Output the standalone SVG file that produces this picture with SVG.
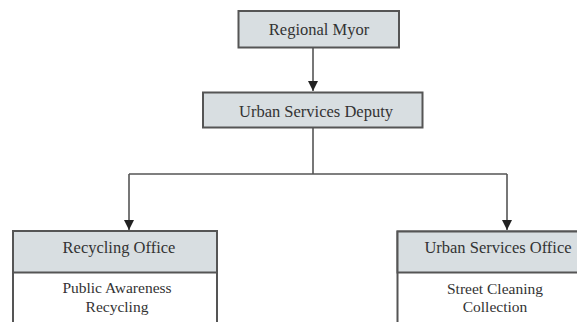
<svg xmlns="http://www.w3.org/2000/svg" width="577" height="322" viewBox="0 0 577 322">
<style>
.box{fill:#d8dee1;stroke:#555;stroke-width:2}
.body{fill:#fff;stroke:#555;stroke-width:2}
.t{font-family:"Liberation Serif","Times New Roman",serif;font-size:16.5px;fill:#333;text-anchor:middle}
.s{font-size:15.5px}
.c{fill:none;stroke:#555;stroke-width:1.6}
</style>
<defs>
<marker id="ah" viewBox="0 0 10 10" refX="10" refY="5" markerWidth="10" markerHeight="10" markerUnits="userSpaceOnUse" orient="auto">
<path d="M0,0 L10,5 L0,10 Z" fill="#222"/>
</marker>
</defs>
<rect width="577" height="322" fill="#fff"/>
<g id="connectors">
<path class="c" d="M313,47.5 V91" marker-end="url(#ah)"/>
<path class="c" d="M313,127 V174"/>
<path class="c" d="M129,174 H507"/>
<path class="c" d="M129,174 V230" marker-end="url(#ah)"/>
<path class="c" d="M507,174 V230" marker-end="url(#ah)"/>
</g>
<g id="regional-mayor">
<rect class="box" x="238.5" y="11" width="160.5" height="36.5"/>
<text class="t" x="319" y="35">Regional Myor</text>
</g>
<g id="urban-services-deputy">
<rect class="box" x="203" y="92.5" width="219.5" height="35"/>
<text class="t" x="316" y="116.5">Urban Services Deputy</text>
</g>
<g id="recycling-office">
<rect class="body" x="13" y="231" width="204" height="100"/>
<rect class="box" x="13" y="231" width="204" height="41.5"/>
<text class="t" x="119" y="253">Recycling Office</text>
<text class="t s" x="117" y="293">Public Awareness</text>
<text class="t s" x="117" y="311.5">Recycling</text>
</g>
<g id="urban-services-office">
<rect class="body" x="397.5" y="231.5" width="204" height="100"/>
<rect class="box" x="397.5" y="231.5" width="204" height="41"/>
<text class="t" x="498" y="253">Urban Services Office</text>
<text class="t s" x="495" y="293.5">Street Cleaning</text>
<text class="t s" x="495" y="312">Collection</text>
</g>
</svg>
